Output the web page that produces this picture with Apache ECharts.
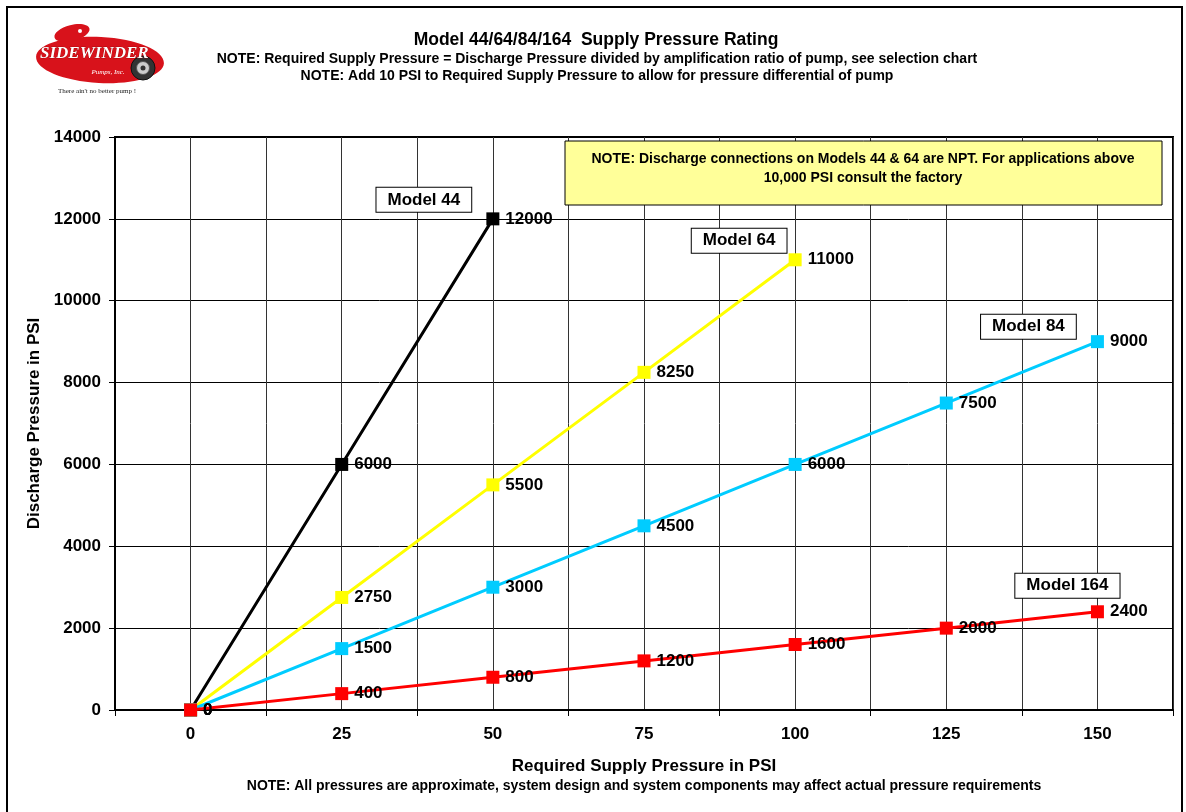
<!DOCTYPE html>
<html>
<head>
<meta charset="utf-8">
<title>Model 44/64/84/164 Supply Pressure Rating</title>
<script src="https://cdn.jsdelivr.net/npm/echarts@6/dist/echarts.min.js"></script>
<style>
  html, body { margin: 0; padding: 0; background: #fff; }
  #chart { width: 1186px; height: 812px; }
</style>
</head>
<body>
<div id="chart"></div>
<script>
// Required supply pressure (PSI) for each point along the x axis
var supplyPressure = [0, 25, 50, 75, 100, 125, 150];

// Discharge pressure (PSI) per pump model
var model44 = [0, 6000, 12000];
var model64 = [0, 2750, 5500, 8250, 11000];
var model84 = [0, 1500, 3000, 4500, 6000, 7500, 9000];
var model164 = [0, 400, 800, 1200, 1600, 2000, 2400];

var modelNames = ['Model 44', 'Model 64', 'Model 84', 'Model 164'];
var modelColors = ['#000000', '#FFFF00', '#00CCFF', '#FF0000'];

var FONT = '"Liberation Sans", Arial, sans-serif';

function pairs(values) {
  return values.map(function (v, i) { return [supplyPressure[i], v]; });
}

// Offsets of each model's name box from its last point, in pixels
var nameBoxOffsets = [[-69, -19], [-56, -19], [-69, -15], [-30, -26]];

function makeSeries(name, values, color, idx) {
  var data = pairs(values);
  var last = data[data.length - 1];
  return {
    name: name,
    type: 'line',
    data: data,
    symbol: 'rect',
    symbolSize: 13,
    showAllSymbol: true,
    itemStyle: { color: color },
    lineStyle: { color: color, width: 3 },
    z: 3 + idx,
    label: {
      show: true,
      position: 'right',
      distance: 6,
      color: '#000',
      fontFamily: FONT,
      fontWeight: 'bold',
      fontSize: 17,
      formatter: function (p) { return String(p.value[1]); }
    },
    markPoint: {
      symbol: 'rect',
      symbolSize: 0,
      silent: true,
      data: [{ coord: last, value: name }],
      label: {
        show: true,
        formatter: name,
        offset: nameBoxOffsets[idx],
        color: '#000',
        fontFamily: FONT,
        fontWeight: 'bold',
        fontSize: 17,
        lineHeight: 17,
        backgroundColor: '#fff',
        borderColor: '#000',
        borderWidth: 1,
        padding: [4, 11, 3, 11]
      }
    },
    animation: false
  };
}

var chart = echarts.init(document.getElementById('chart'), null, { renderer: 'canvas' });

var option = {
  backgroundColor: '#fff',
  animation: false,
  grid: {
    left: 115, top: 137, right: 13, bottom: 102,
    show: true, borderColor: '#000', borderWidth: 2, backgroundColor: 'transparent'
  },
  xAxis: [
    {
      type: 'value',
      min: -12.5, max: 162.5, interval: 12.5,
      name: 'Required Supply Pressure in PSI',
      nameLocation: 'middle',
      nameGap: 48,
      nameTextStyle: { fontFamily: FONT, fontWeight: 'bold', fontSize: 17, color: '#000', verticalAlign: 'top' },
      axisLine: { show: true, onZero: false, lineStyle: { color: '#000', width: 2 } },
      axisTick: { show: false },
      splitLine: { show: true, lineStyle: { color: '#333', width: 1 } },
      axisLabel: {
        margin: 16,
        fontFamily: FONT, fontWeight: 'bold', fontSize: 17, color: '#000',
        showMinLabel: true, showMaxLabel: true,
        formatter: function (v) {
          return (v >= 0 && v <= 150 && v % 25 === 0) ? String(v) : '';
        }
      }
    },
    {
      // tick marks between the category positions
      type: 'value',
      position: 'bottom',
      min: -12.5, max: 162.5, interval: 25,
      axisLine: { show: false, onZero: false },
      axisTick: { show: true, length: 6, lineStyle: { color: '#000', width: 1 } },
      axisLabel: { show: false },
      splitLine: { show: false }
    }
  ],
  yAxis: {
    type: 'value',
    min: 0, max: 14000, interval: 2000,
    name: 'Discharge Pressure in PSI',
    nameLocation: 'middle',
    nameGap: 71,
    nameRotate: 90,
    nameTextStyle: { fontFamily: FONT, fontWeight: 'bold', fontSize: 17, color: '#000' },
    axisLine: { show: true, onZero: false, lineStyle: { color: '#000', width: 2 } },
    axisTick: { show: true, length: 6, lineStyle: { color: '#000', width: 1 } },
    splitLine: { show: true, lineStyle: { color: '#000', width: 1 } },
    axisLabel: {
      margin: 14, fontFamily: FONT, fontWeight: 'bold', fontSize: 17, color: '#000',
      formatter: function (v) { return String(v); }
    }
  },
  series: [
    makeSeries(modelNames[0], model44, modelColors[0], 0),
    makeSeries(modelNames[1], model64, modelColors[1], 1),
    makeSeries(modelNames[2], model84, modelColors[2], 2),
    makeSeries(modelNames[3], model164, modelColors[3], 3)
  ],
  graphic: [
    // outer frame
    { type: 'rect', z: 0, shape: { x: 7, y: 7, width: 1175, height: 830 }, style: { fill: 'none', stroke: '#000', lineWidth: 2 }, silent: true },
    // titles
    { type: 'text', z: 20, x: 596, y: 40, style: { text: 'Model 44/64/84/164  Supply Pressure Rating', font: 'bold 17.5px ' + FONT, fill: '#000', textAlign: 'center', textVerticalAlign: 'middle' } },
    { type: 'text', z: 20, x: 597, y: 59, style: { text: 'NOTE: Required Supply Pressure = Discharge Pressure divided by amplification ratio of pump, see selection chart', font: 'bold 14px ' + FONT, fill: '#000', textAlign: 'center', textVerticalAlign: 'middle' } },
    { type: 'text', z: 20, x: 597, y: 76, style: { text: 'NOTE: Add 10 PSI to Required Supply Pressure to allow for pressure differential of pump', font: 'bold 14px ' + FONT, fill: '#000', textAlign: 'center', textVerticalAlign: 'middle' } },
    // bottom note
    { type: 'text', z: 20, x: 644, y: 786, style: { text: 'NOTE: All pressures are approximate, system design and system components may affect actual pressure requirements', font: 'bold 14px ' + FONT, fill: '#000', textAlign: 'center', textVerticalAlign: 'middle' } },
    // note box inside the plot
    { type: 'rect', z: 50, shape: { x: 565, y: 141, width: 597, height: 64 }, style: { fill: '#FFFF99', stroke: '#000', lineWidth: 1 } },
    { type: 'text', z: 51, x: 863, y: 159, style: { text: 'NOTE: Discharge connections on Models 44 & 64 are NPT. For applications above', font: 'bold 14px ' + FONT, fill: '#000', textAlign: 'center', textVerticalAlign: 'middle' } },
    { type: 'text', z: 51, x: 863, y: 178, style: { text: '10,000 PSI consult the factory', font: 'bold 14px ' + FONT, fill: '#000', textAlign: 'center', textVerticalAlign: 'middle' } },
    // company logo
    { type: 'ellipse', z: 30, shape: { cx: 100, cy: 60, rx: 64, ry: 23 }, rotation: -0.05, originX: 100, originY: 60, style: { fill: '#D8121B' } },
    { type: 'ellipse', z: 30, shape: { cx: 72, cy: 33, rx: 18, ry: 8 }, rotation: 0.25, originX: 72, originY: 33, style: { fill: '#D8121B' } },
    { type: 'circle', z: 31, shape: { cx: 80, cy: 31, r: 2 }, style: { fill: '#fff' } },
    { type: 'circle', z: 32, shape: { cx: 143, cy: 68, r: 12 }, style: { fill: '#333', stroke: '#111', lineWidth: 1 } },
    { type: 'circle', z: 33, shape: { cx: 143, cy: 68, r: 6.5 }, style: { fill: '#ccc', stroke: '#555', lineWidth: 1 } },
    { type: 'circle', z: 34, shape: { cx: 143, cy: 68, r: 2.5 }, style: { fill: '#333' } },
    { type: 'text', z: 35, x: 40, y: 54, style: { text: 'SIDEWINDER', font: 'italic bold 17px "Liberation Serif", serif', fill: '#fff', stroke: '#8a0000', lineWidth: 0.5, textVerticalAlign: 'middle' } },
    { type: 'text', z: 35, x: 108, y: 72, style: { text: 'Pumps, Inc.', font: 'italic 7px "Liberation Serif", serif', fill: '#fff', textAlign: 'center', textVerticalAlign: 'middle' } },
    { type: 'text', z: 31, x: 97, y: 91, style: { text: "There ain't no better pump !", font: '7px "Liberation Serif", serif', fill: '#222', textAlign: 'center', textVerticalAlign: 'middle' } }
  ]
};

chart.setOption(option);
</script>
</body>
</html>
